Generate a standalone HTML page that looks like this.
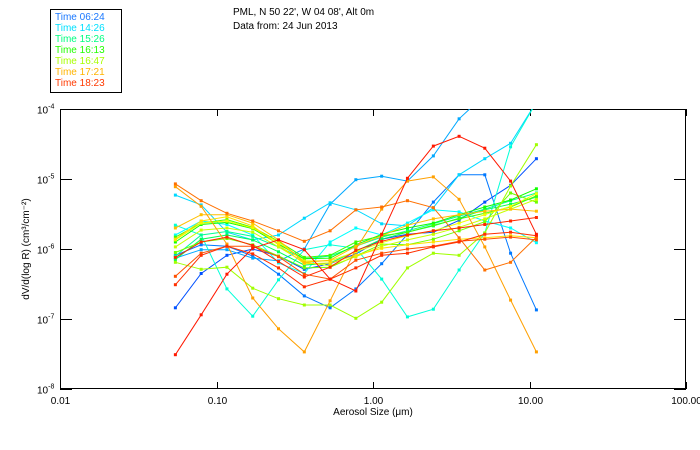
<!DOCTYPE html>
<html><head><meta charset="utf-8"><style>
body{margin:0;background:#fff;}
svg{display:block;font-family:"Liberation Sans",sans-serif;}
</style></head><body>
<svg id="chart" width="700" height="450" viewBox="0 0 700 450">
<defs><clipPath id="pc"><rect x="60" y="109" width="626" height="280"/></clipPath></defs>
<rect x="50.5" y="9.5" width="71" height="83" fill="#fff" stroke="#000"/>
<g id="legend" font-size="10"></g>
<text x="233" y="15" font-size="10">PML, N 50 22', W 04 08', Alt 0m</text>
<text x="233" y="29" font-size="10">Data from: 24 Jun 2013</text>
<g id="axes"></g>
<g id="series" clip-path="url(#pc)"></g>
<text x="373" y="415" font-size="10" text-anchor="middle">Aerosol Size (μm)</text>
<text transform="translate(29,249) rotate(-90)" font-size="10" text-anchor="middle">dV/d(log R) (cm³/cm⁻²)</text>
</svg>
<script>
const sizes=[0.0546,0.0798,0.1166,0.1704,0.249,0.364,0.532,0.777,1.136,1.66,2.43,3.55,5.18,7.57,11.07];
const xTicks=[0.01,0.1,1,10,100];
const xTickLabels=["0.01","0.10","1.00","10.00","100.00"];
const yTicks=[1e-8,1e-7,1e-6,1e-5,1e-4];
const yTickExps=["-8","-7","-6","-5","-4"];
const legendLabels=["Time 06:24","Time 14:26","Time 15:26","Time 16:13","Time 16:47","Time 17:21","Time 18:23"];
const legendColors=["#1a78ff","#00e0ff","#00ff80","#22ff00","#a8ff00","#ffb400","#ff3a00"];
const seriesColors=["#0050ff","#0078ff","#00a8ff","#00d8ff","#00ffd8","#00ffff","#00ff90","#00ff50","#10ff00","#40ff00","#70ff00","#a0ff00","#c8ff00","#eeff00","#ffe000","#ffc000","#ffa000","#ff7000","#ff5000","#ff3000","#ff1800","#ff2800"];
// log10 of dV/d(logR) for each series
const s0=[-6.84,-6.35,-6.09,-6.0,-6.1,-6.29,-6.21,-6.07,-5.86,-5.79,-5.76,-5.59,-5.33,-5.09,-4.71];
const s1=[-6.09,-5.94,-5.96,-6.1,-6.36,-6.67,-6.84,-6.57,-6.21,-5.79,-5.33,-4.94,-4.94,-6.06,-6.87];
const s2=[-6.13,-6.01,-6.01,-6.13,-6.17,-6.0,-5.36,-5.01,-4.96,-5.03,-4.67,-4.14,-3.8,-3.6,-3.4];
const s3=[-5.23,-5.37,-5.76,-5.87,-5.8,-5.56,-5.34,-5.44,-5.64,-5.67,-5.41,-4.94,-4.71,-4.49,-3.9];
const s4=[-5.66,-5.8,-6.57,-6.96,-6.44,-6.01,-5.94,-5.99,-6.43,-6.97,-6.86,-6.3,-5.77,-4.54,-3.9];
const s5=[-5.8,-5.6,-5.65,-5.8,-6.2,-6.35,-5.9,-5.7,-5.8,-5.63,-5.44,-5.47,-5.6,-5.7,-5.91];
const s6=[-6.1,-5.8,-5.75,-5.82,-5.97,-6.14,-6.1,-5.96,-5.83,-5.74,-5.64,-5.53,-5.43,-5.31,-5.2];
const s7=[-6.15,-5.86,-5.8,-5.87,-6.04,-6.23,-6.2,-6.03,-5.86,-5.76,-5.67,-5.56,-5.44,-5.36,-5.26];
const s8=[-5.9,-5.65,-5.62,-5.71,-5.93,-6.14,-6.13,-5.94,-5.79,-5.7,-5.63,-5.51,-5.4,-5.3,-5.14];
const s9=[-5.83,-5.63,-5.58,-5.69,-5.89,-6.12,-6.09,-5.9,-5.81,-5.76,-5.66,-5.57,-5.49,-5.4,-5.24];
const s10=[-6.05,-5.9,-5.85,-5.94,-6.1,-6.27,-6.26,-6.1,-5.93,-5.94,-5.86,-5.74,-5.61,-5.2,-5.33];
const s11=[-6.19,-6.29,-6.26,-6.56,-6.71,-6.8,-6.8,-6.99,-6.76,-6.27,-6.06,-6.09,-5.77,-5.1,-4.51];
const s12=[-5.97,-5.73,-5.7,-5.76,-5.97,-6.19,-6.24,-6.11,-5.96,-5.87,-5.79,-5.69,-5.57,-5.43,-5.29];
const s13=[-5.87,-5.63,-5.6,-5.7,-5.9,-6.17,-6.17,-6.04,-5.91,-5.81,-5.74,-5.63,-5.51,-5.39,-5.21];
const s14=[-5.86,-5.6,-5.54,-5.67,-5.94,-6.21,-6.2,-6.09,-5.99,-5.94,-5.9,-5.86,-5.84,-5.81,-5.84];
const s15=[-5.7,-5.51,-5.51,-5.63,-5.87,-6.19,-6.16,-5.96,-5.81,-5.66,-5.57,-5.51,-5.46,-5.43,-5.46];
const s16=[-5.11,-5.39,-5.93,-6.7,-7.14,-7.47,-6.74,-6.0,-5.43,-5.03,-4.97,-5.29,-5.97,-6.73,-7.47];
const s17=[-5.07,-5.31,-5.49,-5.6,-5.74,-5.89,-5.74,-5.44,-5.4,-5.31,-5.41,-5.84,-6.3,-6.19,-5.83];
const s18=[-6.39,-6.06,-5.96,-5.96,-6.11,-6.36,-6.43,-6.16,-6.06,-6.0,-5.96,-5.89,-5.86,-5.83,-5.87];
const s19=[-6.51,-6.09,-5.96,-6.07,-6.27,-6.54,-6.43,-6.27,-6.09,-6.06,-5.97,-5.9,-5.79,-5.76,-5.81];
const s20=[-7.51,-6.94,-6.36,-5.99,-5.87,-6.01,-6.43,-6.6,-5.79,-4.99,-4.53,-4.39,-4.56,-5.03,-5.79];
const s21=[-6.12,-5.9,-5.83,-5.95,-6.18,-6.4,-6.26,-6.02,-5.89,-5.8,-5.74,-5.7,-5.65,-5.6,-5.55];
const allSeries=[s0,s1,s2,s3,s4,s5,s6,s7,s8,s9,s10,s11,s12,s13,s14,s15,s16,s17,s18,s19,s20,s21];

const NS="http://www.w3.org/2000/svg";
const L=60,R=686,T=109,B=389;
function xs(v){return L+(Math.log10(v)+2)/4*(R-L);}
function ys(v){return T+(-4-Math.log10(v))/4*(B-T);}
function mk(tag,attrs,parent){const e=document.createElementNS(NS,tag);for(const k in attrs)e.setAttribute(k,attrs[k]);parent.appendChild(e);return e;}
const ax=document.getElementById('axes');
const frame=mk('rect',{x:L+0.5,y:T+0.5,width:R-L-1,height:B-T-1,fill:'none',stroke:'#000'},ax);


xTicks.forEach((t,i)=>{
  const x=Math.round(xs(t))+0.5;
  const t1=mk('line',{x1:x,x2:x,y1:B,y2:B-7,stroke:'#000'},ax);
  
  
  const t2=mk('line',{x1:x,x2:x,y1:T,y2:T+7,stroke:'#000'},ax);
  
  
  const lb=mk('text',{x:x,y:B+15,'font-size':10,'text-anchor':'middle'},ax);
  lb.textContent=xTickLabels[i];
  
  
});
yTicks.forEach((t,i)=>{
  const y=Math.round(ys(t))+0.5;
  const t1=mk('line',{x1:L,x2:L+12,y1:y,y2:y,stroke:'#000'},ax);
  
  
  const t2=mk('line',{x1:R-12,x2:R,y1:y,y2:y,stroke:'#000'},ax);
  
  
  const lb=mk('text',{x:37,y:y+4,'font-size':10},ax);
  lb.textContent='10';
  
  
  const sp=mk('tspan',{dy:-5,'font-size':7},lb);
  sp.textContent=yTickExps[i];
});
const sg=document.getElementById('series');
allSeries.forEach((s,si)=>{
  const c=seriesColors[si];
  const pts=s.map((e,i)=>xs(sizes[i]).toFixed(1)+','+ys(Math.pow(10,e)).toFixed(1)).join(' ');
  const pl=mk('polyline',{points:pts,fill:'none',stroke:c,'stroke-width':1},sg);
  
  
  s.forEach((e,i)=>{
    const r=mk('rect',{x:xs(sizes[i])-1.5,y:ys(Math.pow(10,e))-1.5,width:3,height:3,fill:c},sg);
    
    
  });
});
const lg=document.getElementById('legend');
legendLabels.forEach((l,i)=>{
  const t=mk('text',{x:55,y:20+i*11,fill:legendColors[i]},lg);
  t.textContent=l;
  
  
});
</script>
</body></html>
